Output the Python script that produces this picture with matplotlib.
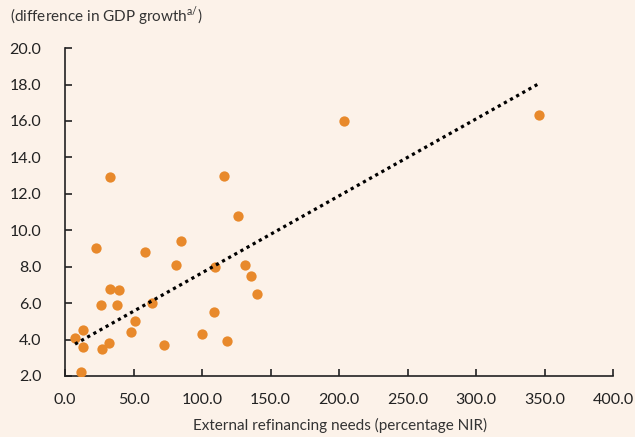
import numpy as np
import matplotlib.pyplot as plt

plt.rcParams['font.family'] = ['Lato', 'DejaVu Sans']

# External refinancing needs (% NIR) vs difference in GDP growth
refinancing = [7.3, 13.4, 13.4, 11.9, 22.4, 26.0, 27.2, 32.8, 32.1, 39.1, 38.2,
               51.3, 48.1, 58.1, 63.2, 72.0, 81.2, 84.4, 100.2, 108.4, 109.4,
               118.2, 126.2, 131.1, 135.4, 140.0, 32.8, 116.2, 203.3, 345.5]
gdp_diff = [4.1, 4.5, 3.6, 2.2, 9.0, 5.9, 3.5, 6.8, 3.8, 6.7, 5.9,
            5.0, 4.4, 8.8, 6.0, 3.7, 8.1, 9.4, 4.3, 5.5, 8.0,
            3.9, 10.8, 8.1, 7.5, 6.5, 12.9, 13.0, 16.0, 16.3]

# trend line end points as drawn in the source chart
trend_x = [7.3, 344.5]
trend_y = [3.75, 18.0]

bg = '#FCF2E9'
fig = plt.figure(figsize=(6.35, 4.37), dpi=100, facecolor=bg)
ax = fig.add_axes([0.1024, 0.1396, 0.8636, 0.7504], facecolor=bg)

ax.scatter(refinancing, gdp_diff, s=55, color='#E8892B', zorder=3, linewidths=0)
ax.plot(trend_x, trend_y, color='black', lw=2.3,
        linestyle=(0, (1, 1.2)), zorder=4)

ax.set_xlim(0, 400)
ax.set_ylim(2, 20)
ax.set_xticks(np.arange(0, 401, 50))
ax.set_yticks(np.arange(2, 21, 2))
ax.xaxis.set_major_formatter(lambda v, p: f'{v:.1f}')
ax.yaxis.set_major_formatter(lambda v, p: f'{v:.1f}')
ax.tick_params(direction='in', length=5, width=1.2, labelsize=11.5,
               colors='#222222')
ax.tick_params(axis='x', pad=12)
ax.tick_params(axis='y', pad=17)
for s in ['top', 'right']:
    ax.spines[s].set_visible(False)
for s in ['left', 'bottom']:
    ax.spines[s].set_linewidth(1.2)
    ax.spines[s].set_color('#222222')

fig.text(0.015, 0.963, r'(difference in GDP growth$^{\mathregular{a/}}$)',
         fontsize=11, color='#333333', va='center', ha='left')
fig.text(0.535, 0.027, 'External refinancing needs (percentage NIR)',
         fontsize=11, color='#333333', va='center', ha='center')

fig.savefig('out.png', dpi=100, facecolor=bg)
